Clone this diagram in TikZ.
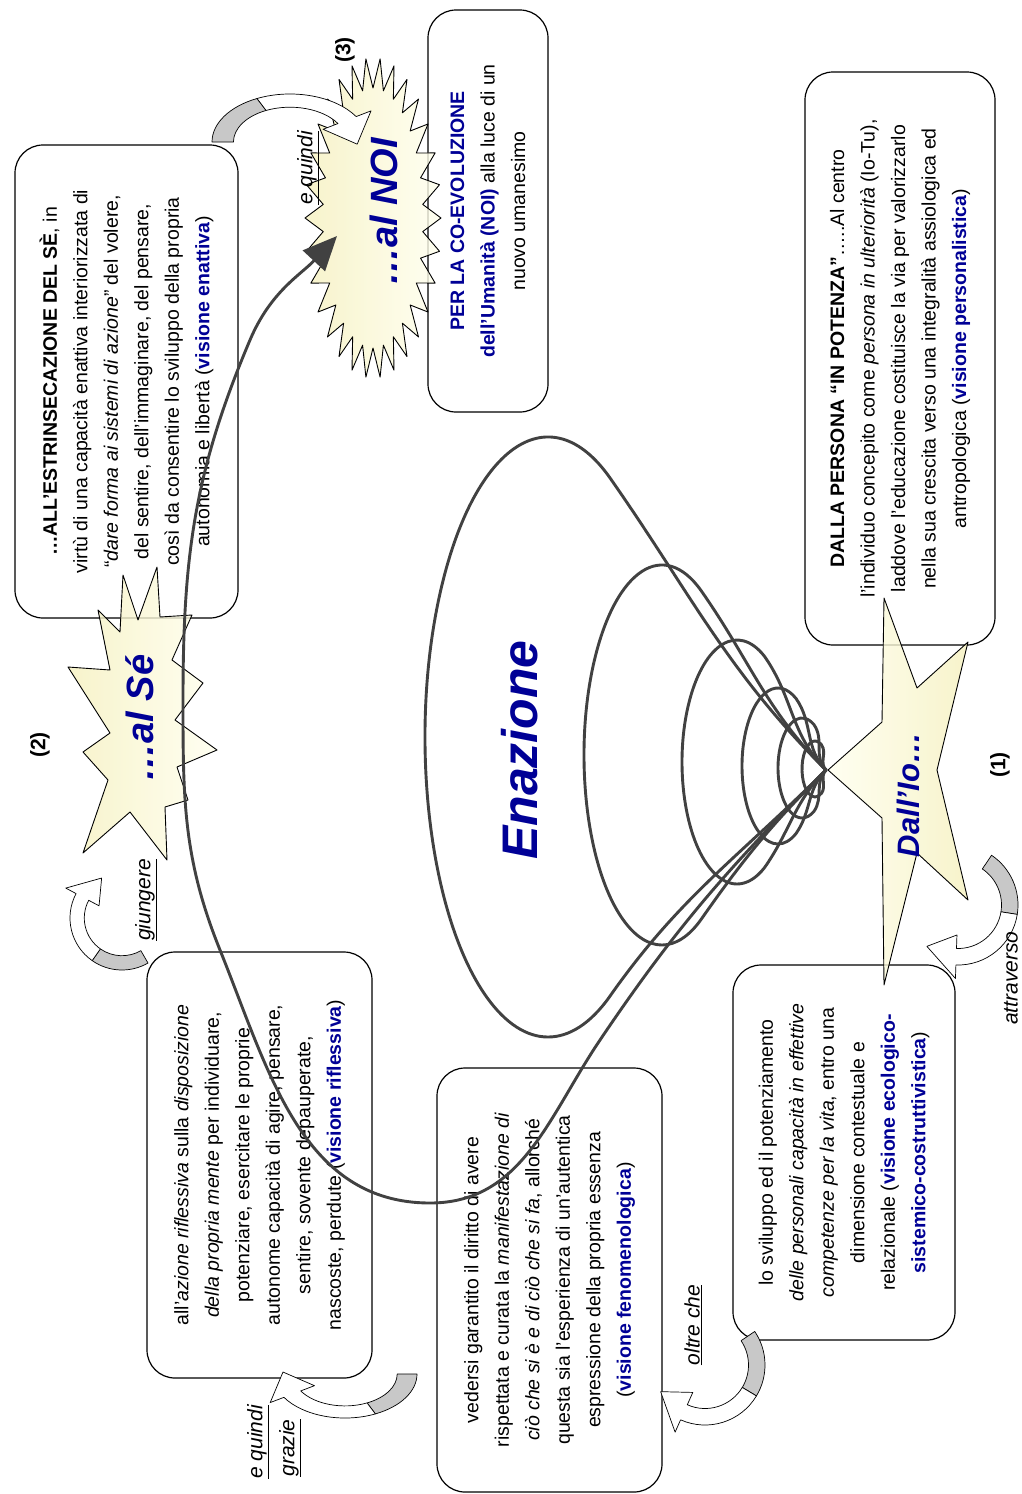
\documentclass[tikz,border=0pt]{standalone}
\usepackage{fontspec}
\setmainfont{Liberation Sans}
\usetikzlibrary{arrows.meta}

\definecolor{navy}{RGB}{0,0,150}
\definecolor{staryellow}{RGB}{245,240,190}
\definecolor{starpale}{RGB}{255,255,238}
\definecolor{spiralgray}{RGB}{65,65,65}
\definecolor{backgray}{RGB}{200,200,200}

\newcommand{\vis}[1]{\textcolor{navy}{\textbf{#1}}}

\tikzset{
  textbox/.style={draw, line width=1.2pt, fill=white, rounded corners=28pt,
    rotate=90, align=center, inner sep=0pt,
    font=\fontsize{19.5}{30.5}\selectfont},
  startext/.style={rotate=90, text=navy, font=\fontsize{38}{40}\selectfont\bfseries\itshape},
  linklabel/.style={rotate=90, font=\fontsize{21}{24}\selectfont\itshape},
  numlabel/.style={rotate=90, font=\fontsize{21}{24}\selectfont\bfseries},
  starfill/.style={draw=black, line width=0.9pt, fill opacity=0.8},
  spiralline/.style={draw=spiralgray, line width=2.9pt},
  pics/bendarrow/.style={code={
    \filldraw[fill=backgray, line width=0.7pt]
      (180:40) arc[start angle=180, end angle=245, radius=40]
      -- (245:29) arc[start angle=245, end angle=180, radius=29] -- cycle;
    \filldraw[fill=white, line width=0.7pt]
      (245:40) arc[start angle=245, end angle=328, radius=40]
      -- (328:49) -- (3:34.5) -- (328:20) -- (328:29)
      arc[start angle=328, end angle=245, radius=29] -- cycle;
  }}
}

\begin{document}
\begin{tikzpicture}[x=1pt, y=-1pt, line join=round]
  \useasboundingbox (0,0) rectangle (1022,1494);

  % the six text boxes
  \node[textbox, minimum width=473pt, minimum height=223pt] (estrinsecazione) at (126.5,381.5)
    {\textbf{…ALL’ESTRINSECAZIONE DEL SÈ}, in\\
     virtù di una capacità enattiva interiorizzata di\\
     “\textit{dare forma ai sistemi di azione}” del volere,\\
     del sentire, dell’immaginare, del pensare,\\
     così da consentire lo sviluppo della propria\\
     autonomia e libertà (\vis{visione enattiva})};
  \node[textbox, minimum width=402pt, minimum height=120pt] (coevoluzione) at (488,211)
    {\vis{PER LA CO-EVOLUZIONE}\\
     \vis{dell’Umanità (NOI)} alla luce di un\\
     nuovo umanesimo};
  \node[textbox, minimum width=573pt, minimum height=190pt] (persona) at (900,358.5)
    {\textbf{DALLA PERSONA “IN POTENZA”}…..Al centro\\
     l’individuo concepito come \textit{persona in ulteriorità} (Io-Tu),\\
     laddove l’educazione costituisce la via per valorizzarlo\\
     nella sua crescita verso una integralità assiologica ed\\
     antropologica (\vis{visione personalistica})};
  \node[textbox, minimum width=375pt, minimum height=222pt] (sviluppo) at (844,1152.5)
    {lo sviluppo ed il potenziamento\\
     \textit{delle personali capacità in effettive}\\
     \textit{competenze per la vita}, entro una\\
     dimensione contestuale e\\
     relazionale (\vis{visione ecologico-}\\
     \vis{sistemico-costruttivistica})};
  \node[textbox, minimum width=424pt, minimum height=225pt] (fenomeno) at (549.5,1280)
    {vedersi garantito il diritto di avere\\
     rispettata e curata la \textit{manifestazione di}\\
     \textit{ciò che si è e di ciò che si fa}, allorché\\
     questa sia l’esperienza di un’autentica\\
     espressione della propria essenza\\
     (\vis{visione fenomenologica})};
  \node[textbox, minimum width=426pt, minimum height=225pt] (riflessione) at (259.5,1165)
    {all’\textit{azione riflessiva} sulla \textit{disposizione}\\
     \textit{della propria mente} per individuare,\\
     potenziare, esercitare le proprie\\
     autonome capacità di agire, pensare,\\
     sentire, sovente depauperate,\\
     nascoste, perdute (\vis{visione riflessiva})};

  % stars
  \draw[starfill, left color=staryellow, right color=starpale]
    plot[samples at={0,...,59}, variable=\k]
      ({373+(59+9*cos(180*\k))*cos(6*\k)}, {218+(145+15*cos(180*\k))*sin(6*\k)}) -- cycle;
  \draw[starfill, left color=staryellow, right color=starpale]
    (98,610) -- (120,632) -- (123,575) -- (138,620) -- (157,567) -- (160,617)
    -- (192,615) -- (172,660) -- (203,683) -- (175,720) -- (217,750) -- (177,767)
    -- (188,800) -- (165,807) -- (167,860) -- (130,812) -- (83,853) -- (108,780)
    -- (83,752) -- (110,733) -- (68,667) -- (110,670) -- cycle;
  \draw[starfill, left color=starpale, right color=staryellow]
    (828,770) -- (882,722) -- (884,598) -- (917,688) -- (968,642) -- (937,770)
    -- (968,900) -- (917,853) -- (884,985) -- (882,818) -- cycle;

  % the spiral of enaction
  \coordinate (apex) at (826,770);
  \foreach \cx/\cy/\rx/\ry in {548/737/123/300, 662/755/78/190, 737/762/55/122,
      778/766/36/78, 802/768/24/50, 815/769/13/28}
    \draw[spiralline] ({\cx+0.5*\rx},{\cy-0.866*\ry})
      arc[start angle=-60, end angle=-300, x radius=\rx, y radius=\ry]
      to[out=55, in=-135] (apex) to[out=135, in=-55] cycle;

  \coordinate (arm1) at (600,1040);
  \coordinate (arm2) at (430,1203);
  \coordinate (arm3) at (220,950);
  \coordinate (arm4) at (183,700);
  \coordinate (arm5) at (250,340);
  \coordinate (noientry) at (337,236);
  \draw[spiralline, -{Triangle[length=34pt, width=30pt]}] (apex)
    to[out=-135, in=56] (arm1) to[out=-124, in=0] (arm2)
    to[out=180, in=-68] (arm3) to[out=112, in=-90] (arm4)
    to[out=90, in=-113] (arm5) to[out=67, in=-133] (noientry);

  % curved block arrows
  \pic[xscale=1.95, yscale=1.2] at (290,142) {bendarrow};
  \pic[rotate=120, scale=1.3] at (122,918) {bendarrow};
  \pic[rotate=180, xscale=1.8, yscale=1.1] at (345,1374) {bendarrow};
  \pic[rotate=-146, scale=1.5] at (705,1365) {bendarrow};
  \pic[rotate=-124, scale=1.5] at (958,905) {bendarrow};

  % star texts
  \node[startext] (noi) at (384,212) {…al NOI};
  \node[startext] (se) at (140,718) {…al Sé};
  \node[startext, font=\fontsize{31}{33}\selectfont\bfseries\itshape] (io) at (908,795) {Dall’Io…};
  \node[startext, font=\fontsize{50}{52}\selectfont\bfseries\itshape] (enazione) at (520,750) {Enazione};

  % step numbers and link words
  \node[numlabel] (step3) at (345,50) {(3)};
  \node[numlabel] (step2) at (40,745) {(2)};
  \node[numlabel] (step1) at (1000,765) {(1)};
  \node[linklabel] (quindi1) at (308,168) {\underline{e quindi}};
  \node[linklabel] (giungere) at (146,900) {\underline{giungere}};
  \node[linklabel] (quindi2) at (258,1442) {\underline{e quindi}};
  \node[linklabel] (grazie) at (290,1448) {\underline{grazie}};
  \node[linklabel] (oltre) at (693,1325) {\underline{oltre che}};
  \node[linklabel] (attraverso) at (1011,978) {attraverso};
\end{tikzpicture}
\end{document}
